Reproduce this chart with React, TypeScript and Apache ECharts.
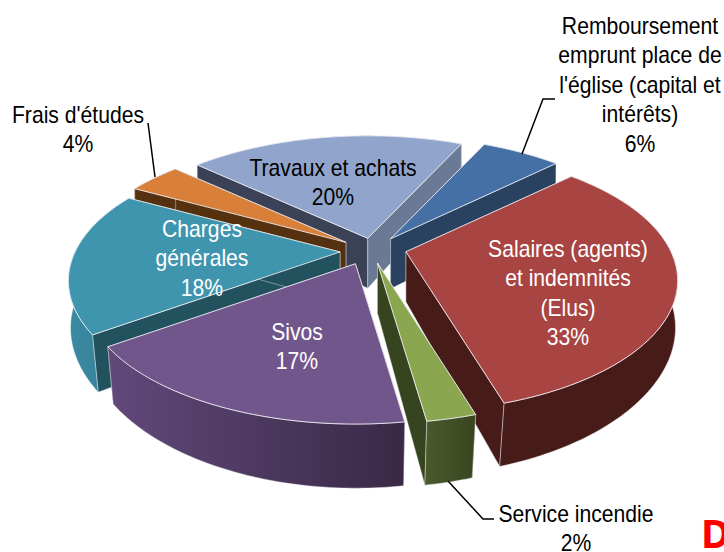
import React, { useEffect, useRef } from "react";
import * as echarts from "echarts";

const names = [
  "Salaires (agents)\net indemnités\n(Elus)",
  "Service incendie",
  "Sivos",
  "Charges\ngénérales",
  "Frais d'études",
  "Travaux et achats",
  "Remboursement\nemprunt place de\nl'église (capital et\nintérêts)",
];
const values = [32.5, 2.4, 17.49, 17.7, 3.9, 20.2, 5.81];
const paintOrder = [5, 6, 4, 3, 0, 1, 2];

const topColors = ["#A84442", "#8AA64E", "#71568C", "#4095AE", "#D87F3A", "#91A5CC", "#4570A6"];
const startWall = ["#471C18", "#374420", "#3E2E50", "#22525E", "#55310F", "#3B4257", "#284260"];
const endWall = ["#471C18", "#374420", "#3E2E50", "#22525E", "#55310F", "#6A7A95", "#284260"];
const outerLeft = ["#471C18", "#4A5A2C", "#61497A", "#3A8AA2", "#6E4214", "#6A7A95", "#284260"];
const outerRight = ["#471C18", "#384520", "#392946", "#357F96", "#55310F", "#6A7A95", "#284260"];
const labelColors = ["#fff", "#000", "#fff", "#fff", "#000", "#000", "#000"];
const nudgeX = [3, -1.5, -4, 0, 0, 2, 0];
const nudgeY = [-3, -2.5, -1, 0, 0, 2, 0];

const labelCenterX = [568, 576, 297, 202, 78, 333, 640];
const labelTopY = [249, 514, 332, 229, 115, 168, 26];
const leaders = [
  [[522, 154], [543, 99], [555, 99]],
  [[148, 123], [155, 177]],
  [[448, 481], [483, 519], [494, 519]],
];

const START_DEG = 46;
const CX = 372, CY = 251, R = 265, RK = 125, D = 0.22;
const EX = 32, EY = 15, H = 50, SHRINK = 0.035;
const LINE_H = 29.5;

const total = values.reduce((a, b) => a + b, 0);
let acc = 0;
const slices = values.map((v, i) => {
  const a0 = START_DEG + (acc / total) * 360;
  acc += v;
  const a1 = START_DEG + (acc / total) * 360;
  return { i, a0, a1 };
});

function project(i: number, deg: number, r: number) {
  const s = slices[i];
  const mid = ((s.a0 + s.a1) / 2) * (Math.PI / 180);
  const ax = CX + EX * Math.sin(mid) + nudgeX[i];
  const ay = CY - EY * Math.cos(mid) + nudgeY[i];
  const t = deg * (Math.PI / 180);
  const u = r * Math.sin(t);
  const v = -r * Math.cos(t);
  const sc = 1 / (1 - D * v);
  const x = ax + R * u * sc;
  const y = ay + RK * v * sc;
  const h = H * sc;
  const shrink = 1 - SHRINK * Math.max(v, 0.05);
  return { top: [x, y], bottom: [CX + (x - CX) * shrink, y + h] };
}

function renderItem(params: any) {
  const i = paintOrder[params.dataIndex];
  const s = slices[i];
  const arc: any[] = [];
  const n = Math.max(4, Math.ceil(s.a1 - s.a0));
  for (let k = 0; k <= n; k++) arc.push(project(i, s.a0 + ((s.a1 - s.a0) * k) / n, 1));
  const apex = project(i, s.a0, 0);
  const edge = { stroke: "rgba(235,235,240,0.55)", lineWidth: 0.8 };
  const wall = (a: any, fill: string) => ({
    type: "polygon",
    shape: { points: [apex.top, a.top, a.bottom, apex.bottom] },
    style: { fill, ...edge },
  });
  const outer = {
    type: "polygon",
    shape: { points: [...arc.map((p) => p.top), ...arc.slice().reverse().map((p) => p.bottom)] },
    style: {
      fill: new echarts.graphic.LinearGradient(0, 0, 1, 0, [
        { offset: 0, color: outerLeft[i] },
        { offset: 1, color: outerRight[i] },
      ]),
      ...edge,
    },
  };
  const midRad = ((s.a0 + s.a1) / 2) * (Math.PI / 180);
  const isBack = Math.cos(midRad) > 0;
  const walls = [wall(arc[0], startWall[i]), wall(arc[n], endWall[i])];
  return {
    type: "group",
    children: [
      ...(isBack ? [outer, ...walls] : [...walls, outer]),
      {
        type: "polygon",
        shape: { points: [apex.top, ...arc.map((p) => p.top)] },
        style: { fill: topColors[i], stroke: "rgba(240,240,245,0.85)", lineWidth: 1 },
      },
    ],
  };
}

export default function App() {
  const ref = useRef<HTMLDivElement>(null);
  useEffect(() => {
    const chart = echarts.init(ref.current!, undefined, { renderer: "svg" });
    const labels: any[] = [];
    names.forEach((name, i) => {
      const lines = [...name.split("\n"), Math.round(values[i]) + "%"];
      lines.forEach((line, k) => {
        labels.push({
          type: "text",
          x: labelCenterX[i],
          y: labelTopY[i] + k * LINE_H,
          scaleX: 0.92,
          z: 10,
          style: {
            text: line,
            fill: labelColors[i],
            font: "23px 'Liberation Sans', Arial, sans-serif",
            textAlign: "center",
            textVerticalAlign: "middle",
          },
        });
      });
    });
    const lines = leaders.map((pts) => ({
      type: "polyline",
      z: 9,
      shape: { points: pts },
      style: { stroke: "#000", lineWidth: 1.5, fill: "none" },
    }));
    chart.setOption({
      animation: false,
      backgroundColor: "#fff",
      graphic: [
        ...lines,
        ...labels,
        {
          type: "text",
          x: 701,
          y: 532,
          z: 10,
          style: {
            text: "D",
            fill: "#FF0000",
            font: "bold 40px 'Noto Sans', 'Open Sans', sans-serif",
            textVerticalAlign: "middle",
          },
        },
      ],
      series: [
        {
          type: "custom",
          coordinateSystem: "none",
          silent: true,
          renderItem,
          data: paintOrder.map((i) => values[i]),
        },
      ],
    });
    return () => chart.dispose();
  }, []);
  return <div ref={ref} style={{ position: "fixed", left: 0, top: 0, width: 724, height: 552 }} />;
}
